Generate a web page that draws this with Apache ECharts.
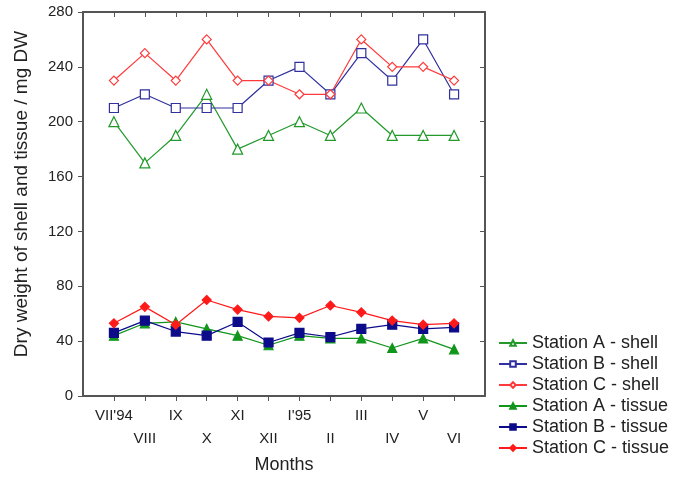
<!DOCTYPE html>
<html>
<head>
<meta charset="utf-8">
<script src="https://cdn.jsdelivr.net/npm/echarts@6/dist/echarts.min.js"></script>
<style>
html,body{margin:0;padding:0;background:#fff;}
#c{width:674px;height:479px;}
</style>
</head>
<body>
<div id="c"></div>
<script>
const months = ["VII'94","VIII","IX","X","XI","XII","I'95","II","III","IV","V","VI"];
const aShell = [200,170,190,220,180,190,200,190,210,190,190,190];
const bShell = [210,220,210,210,210,230,240,220,250,230,260,220];
const cShell = [230,250,230,260,230,230,220,220,260,240,240,230];
const aTissue = [44,53,54,49,44,37,44,42,42,35,42,34];
const bTissue = [46,55,47,44,54,39,46,43,49,52,49,50];
const cTissue = [53,65,52,70,63,58,57,66,61,55,52,53];
const yTicks = [0,40,80,120,160,200,240,280];

const GREEN = '#22992a', BLUE = '#30309e', RED = '#ff3a3a';
const NAVY = '#0c0c8a', GREEN2 = '#11951b', RED2 = '#ff1a1a';
const FONT = 'Liberation Sans, Arial, sans-serif';
const idx = months.map((m,i)=>i);
const toPts = arr => arr.map((v,i)=>[i,v]);

function mk(name, data, color, symbol, filled, size){
  return {
    name, type:'line', data: toPts(data), color,
    symbol, symbolSize: size,
    lineStyle:{color, width:1.2},
    itemStyle:{color: filled ? color : '#ffffff', borderColor: color, borderWidth: 1.2},
    emphasis:{disabled:true}, animation:false
  };
}

const axisLine = {show:true, onZero:false, lineStyle:{color:'#555', width:2}};
const chart = echarts.init(document.getElementById('c'));
chart.setOption({
  backgroundColor:'#fff',
  animation:false,
  textStyle:{fontFamily:FONT},
  grid:{left:83, right:189, top:12, bottom:82, containLabel:false},
  legend:{
    orient:'vertical', left:493, top:329, itemWidth:28, itemHeight:7, itemGap:3,
    textStyle:{fontSize:18, color:'#222', fontFamily:FONT},
    data:['Station A - shell','Station B - shell','Station C - shell','Station A - tissue','Station B - tissue','Station C - tissue']
  },
  xAxis:[{
    type:'value', min:-1, max:12, interval:1, position:'bottom',
    name:'Months', nameLocation:'middle', nameGap:60,
    nameTextStyle:{fontSize:18, color:'#222'},
    axisLine, splitLine:{show:false},
    axisTick:{show:true, inside:false, length:5, lineStyle:{color:'#555', width:1}, customValues: idx},
    axisLabel:{fontSize:15, color:'#222', margin:8, lineHeight:23, customValues: idx,
      formatter: v => { const i=Math.round(v); if(i<0||i>=months.length) return ''; return i%2===0 ? months[i] : '\n'+months[i]; }}
  },{
    type:'value', min:-1, max:12, interval:1, position:'top',
    axisLine, splitLine:{show:false},
    axisTick:{show:true, inside:true, length:5, lineStyle:{color:'#555', width:1}, customValues: idx},
    axisLabel:{show:false}
  }],
  yAxis:[{
    type:'value', min:0, max:280, interval:40, position:'left',
    name:'Dry weight of shell and tissue / mg DW', nameLocation:'middle', nameGap:52,
    nameTextStyle:{fontSize:19, color:'#222', padding:[0,0,0,20]},
    axisLine, splitLine:{show:false},
    axisTick:{show:true, inside:false, length:5, lineStyle:{color:'#555', width:1}, customValues: yTicks},
    axisLabel:{fontSize:15, color:'#222', margin:10, customValues: yTicks}
  },{
    type:'value', min:0, max:280, interval:40, position:'right',
    axisLine, splitLine:{show:false},
    axisTick:{show:true, inside:true, length:5, lineStyle:{color:'#555', width:1}, customValues: yTicks},
    axisLabel:{show:false}
  }],
  series:[
    mk('Station A - shell', aShell, GREEN, 'triangle', false, 10),
    mk('Station B - shell', bShell, BLUE, 'rect', false, 9),
    mk('Station C - shell', cShell, RED, 'diamond', false, 9),
    mk('Station A - tissue', aTissue, GREEN2, 'triangle', true, 9),
    mk('Station B - tissue', bTissue, NAVY, 'rect', true, 9),
    mk('Station C - tissue', cTissue, RED2, 'diamond', true, 9)
  ]
});
</script>
</body>
</html>
